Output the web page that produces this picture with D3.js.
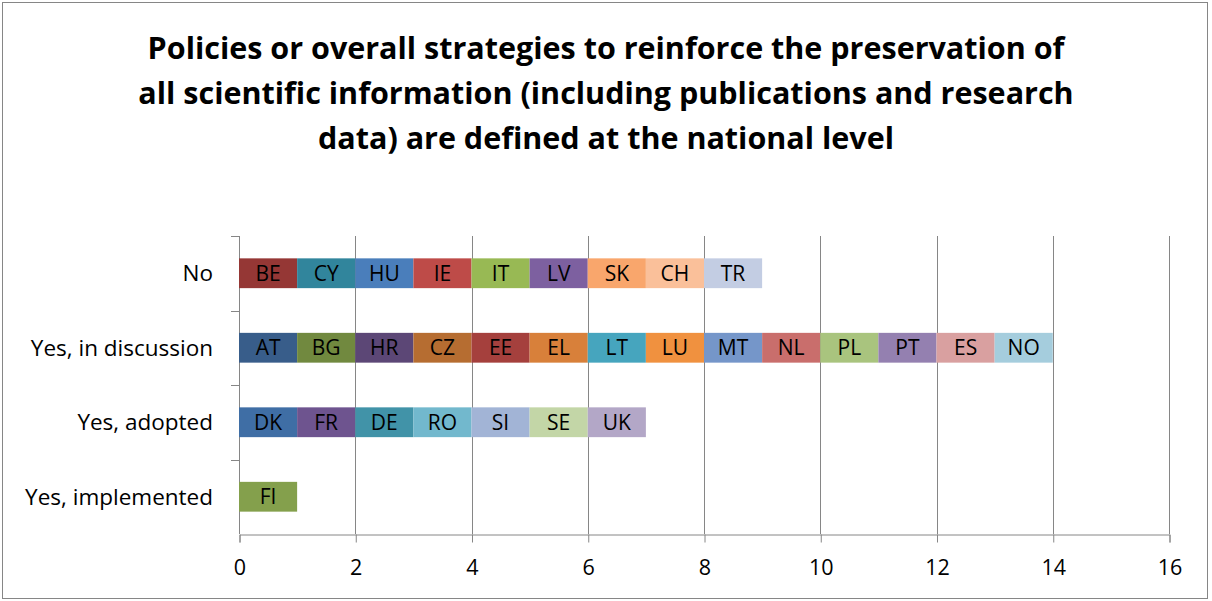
<!DOCTYPE html>
<html>
<head>
<meta charset="utf-8">
<script src="https://cdn.jsdelivr.net/npm/d3@7"></script>
<style>
  body { margin: 0; background: #fff; }
  svg text { font-family: "Open Sans", "Liberation Sans", sans-serif; }
</style>
</head>
<body>
<div id="holder"></div>
<script>
const w = 1212;
const h = 601;

// DATA
const titleLines = [
    "Policies or overall strategies to reinforce the preservation of",
    "all scientific information (including publications and research",
    "data) are defined at the national level"
];
const categories = ["No", "Yes, in discussion", "Yes, adopted", "Yes, implemented"];
const countriesNo = ["BE", "CY", "HU", "IE", "IT", "LV", "SK", "CH", "TR"];
const countriesDiscussion = ["AT", "BG", "HR", "CZ", "EE", "EL", "LT", "LU", "MT", "NL", "PL", "PT", "ES", "NO"];
const countriesAdopted = ["DK", "FR", "DE", "RO", "SI", "SE", "UK"];
const countriesImplemented = ["FI"];
const xTicks = [0, 2, 4, 6, 8, 10, 12, 14, 16];

const colorsNo = ["#953735", "#31859C", "#4A7EBB", "#BE4B48", "#98B954", "#7D60A0", "#F9A66C", "#FAC09A", "#C3CDE3"];
const colorsDiscussion = ["#385D8A", "#71893F", "#5C4776", "#B66D31", "#A5403D", "#D8803A", "#46A5BE", "#F0913F", "#7596C9", "#C96E6C", "#A9C47E", "#9480B0", "#D9A0A0", "#A5CDDD"];
const colorsAdopted = ["#3F6EA5", "#6E548F", "#4193A8", "#72B8CD", "#A2B4D6", "#C3D6A7", "#B3A7C7"];
const colorsImplemented = ["#84A04C"];

const rows = [
    { cat: categories[0], codes: countriesNo, colors: colorsNo },
    { cat: categories[1], codes: countriesDiscussion, colors: colorsDiscussion },
    { cat: categories[2], codes: countriesAdopted, colors: colorsAdopted },
    { cat: categories[3], codes: countriesImplemented, colors: colorsImplemented }
];

// SEGMENTS (each country counts 1)
const segments = [];
rows.forEach(r => {
    r.codes.forEach((c, i) => {
        segments.push({ cat: r.cat, code: c, x0: i, x1: i + 1, color: r.colors[i] });
    });
});

const plot = { left: 239, right: 1169, top: 236, bottom: 534 };

const svg = d3.select("#holder")
    .append("svg")
    .attr("width", w)
    .attr("height", h);

// OUTER BORDER
svg.append("rect")
    .attr("x", 2.5).attr("y", 2.5)
    .attr("width", 1205).attr("height", 596)
    .attr("fill", "#fff")
    .attr("stroke", "#868686")
    .attr("stroke-width", 1);

// TITLE
svg.append("text")
    .attr("text-anchor", "middle")
    .attr("font-size", 30.5)
    .attr("font-weight", "bold")
    .attr("fill", "#000")
    .selectAll("tspan")
    .data(titleLines)
    .enter()
    .append("tspan")
    .attr("x", 606)
    .attr("y", (d, i) => 59 + i * 45)
    .text(d => d);

// SCALES
const xScale = d3.scaleLinear()
    .domain([0, 16])
    .range([plot.left, plot.right]);

const yScale = d3.scaleBand()
    .domain(categories)
    .range([plot.top, plot.bottom])
    .paddingInner(0.6)
    .paddingOuter(0.3);

// GRIDLINES
svg.append("g")
    .selectAll("line")
    .data(xTicks.slice(1))
    .enter()
    .append("line")
    .attr("x1", d => Math.round(xScale(d)) + 0.5)
    .attr("x2", d => Math.round(xScale(d)) + 0.5)
    .attr("y1", plot.top)
    .attr("y2", plot.bottom)
    .attr("stroke", "#868686");

// X AXIS
const xAxis = d3.axisBottom(xScale)
    .tickValues(xTicks)
    .tickSize(8)
    .tickPadding(17);

const gx = svg.append("g")
    .attr("transform", "translate(0.5," + (plot.bottom + 0.5) + ")")
    .call(xAxis);
gx.select(".domain").attr("stroke", "#868686");
gx.selectAll(".tick line").attr("stroke", "#868686");
gx.selectAll(".tick text")
    .attr("font-size", 21.5)
    .attr("fill", "#000")
    .attr("font-family", "Open Sans, sans-serif");

// Y AXIS
const bandStep = (plot.bottom - plot.top) / categories.length;
const yLine = svg.append("g");
yLine.append("line")
    .attr("x1", plot.left + 0.5).attr("x2", plot.left + 0.5)
    .attr("y1", plot.top).attr("y2", plot.bottom)
    .attr("stroke", "#868686");
yLine.selectAll(".ytick")
    .data(d3.range(categories.length))
    .enter()
    .append("line")
    .attr("x1", plot.left - 8).attr("x2", plot.left)
    .attr("y1", d => Math.round(plot.top + d * bandStep) + 0.5)
    .attr("y2", d => Math.round(plot.top + d * bandStep) + 0.5)
    .attr("stroke", "#868686");

svg.append("g")
    .selectAll("text")
    .data(categories)
    .enter()
    .append("text")
    .attr("x", 213)
    .attr("y", d => yScale(d) + yScale.bandwidth() / 2)
    .attr("dy", "0.35em")
    .attr("text-anchor", "end")
    .attr("font-size", 22.5)
    .attr("fill", "#000")
    .text(d => d);

// BARS
const seg = svg.append("g")
    .selectAll("g")
    .data(segments)
    .enter()
    .append("g");

seg.append("rect")
    .attr("x", d => xScale(d.x0))
    .attr("y", d => yScale(d.cat))
    .attr("width", d => xScale(d.x1) - xScale(d.x0))
    .attr("height", yScale.bandwidth())
    .attr("fill", d => d.color);

seg.append("text")
    .attr("x", d => (xScale(d.x0) + xScale(d.x1)) / 2)
    .attr("y", d => yScale(d.cat) + yScale.bandwidth() / 2)
    .attr("dy", "0.36em")
    .attr("text-anchor", "middle")
    .attr("font-size", 21)
    .attr("fill", "#000")
    .text(d => d.code);
</script>
</body>
</html>
